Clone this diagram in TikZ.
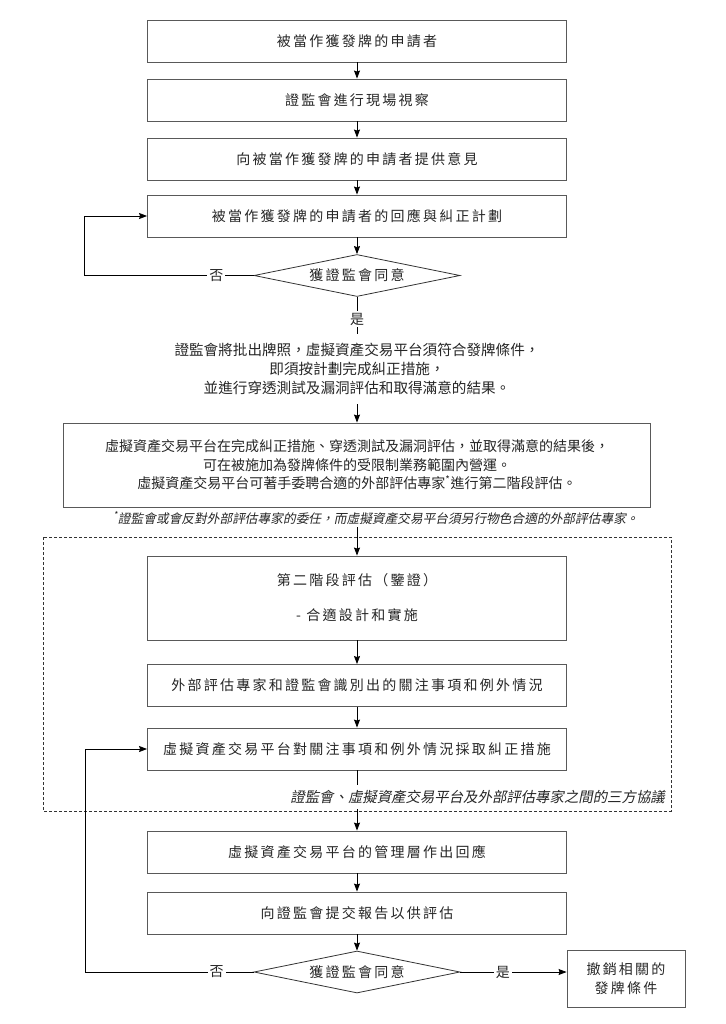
\documentclass[tikz,border=0pt]{standalone}
\usepackage{fontspec}
\setmainfont{Noto Sans CJK TC}
\newfontfamily\cjksp{Noto Sans CJK TC}[LetterSpace=16]
\newfontfamily\cjksl{Noto Sans CJK TC}[FakeSlant=0.2]
\usetikzlibrary{positioning,shapes.geometric,arrows.meta}

\begin{document}
\begin{tikzpicture}[x=1pt,y=-1pt,node distance=60pt,on grid,
    every node/.style={text=black!85},
    box/.style={draw=black!65,line width=0.9pt,minimum width=419pt,minimum height=42pt,
      align=center,font=\cjksp\fontsize{14}{19}\selectfont},
    wide/.style={box,minimum width=587pt,minimum height=84pt,font=\fontsize{14}{18.5}\selectfont},
    ask/.style={diamond,draw=black!80,line width=0.8pt,aspect=5,inner sep=0pt,
      minimum width=206pt,minimum height=42pt,font=\cjksp\fontsize{14}{17}\selectfont},
    lbl/.style={fill=white,inner sep=2pt,font=\fontsize{14}{17}\selectfont},
    arr/.style={-{Stealth[length=8pt,width=6pt,inset=1pt]},line width=0.8pt}]
      \fill[white] (0,0) rectangle (725,1024);
      \useasboundingbox (0,0) rectangle (725,1024);

      \node[box] (b1) at (357,41)         {被當作獲發牌的申請者};
      \node[box] (b2) [below=59pt of b1]  {證監會進行現場視察};
      \node[box] (b3) [below=59pt of b2]  {向被當作獲發牌的申請者提供意見};
      \node[box] (b4) [below=57pt of b3]  {被當作獲發牌的申請者的回應與糾正計劃};
      \node[ask] (d1) [below=59.5pt of b4] {獲證監會同意};
      \node[align=center,inner ysep=9pt,font=\fontsize{14.6}{19}\selectfont] (note) [below=93.5pt of d1]
        {證監會將批出牌照，虛擬資產交易平台須符合發牌條件，\\即須按計劃完成糾正措施，\\並進行穿透測試及漏洞評估和取得滿意的結果。};
      \node[wide] (b5) [below=96pt of note]
        {虛擬資產交易平台在完成糾正措施、穿透測試及漏洞評估，並取得滿意的結果後，\\
         可在被施加為發牌條件的受限制業務範圍內營運。\\
         虛擬資產交易平台可著手委聘合適的外部評估專家\textsuperscript{*}進行第二階段評估。};
      \node[inner ysep=3pt,font=\cjksl\fontsize{12.7}{15}\selectfont] (fn) [below=53pt of b5, xshift=19pt]
        {\textsuperscript{*}證監會或會反對外部評估專家的委任，而虛擬資產交易平台須另行物色合適的外部評估專家。};

      % three-party frame
      \draw[dash pattern=on 3pt off 2pt,black!80,line width=0.7pt] (43,537) rectangle (671,811);

      \node[box,minimum height=84pt] (b6) [below=133pt of b5]
        {第二階段評估（鑒證）\\[16pt]- 合適設計和實施};
      \node[box] (b7)  [below=87.5pt of b6] {外部評估專家和證監會識別出的關注事項和例外情況};
      \node[box] (b8)  [below=63.5pt of b7] {虛擬資產交易平台對關注事項和例外情況採取糾正措施};
      \node[box] (b9)  [below=103pt of b8]  {虛擬資產交易平台的管理層作出回應};
      \node[box] (b10) [below=61pt of b9]   {向證監會提交報告以供評估};
      \node[ask] (d2)  [below=59pt of b10]  {獲證監會同意};
      \node[box,minimum width=118pt,minimum height=57pt] (b11) [right=269pt of d2, yshift=-7pt]
        {撤銷相關的\\發牌條件};

      \path [arr]
      (b1)   edge (b2)
      (b2)   edge (b3)
      (b3)   edge (b4)
      (b4)   edge (d1)
      (note) edge (b5)
      (b6)   edge (b7)
      (b7)   edge (b8)
      (b8)   edge (b9)
      (b9)   edge (b10)
      (b10)  edge (d2);

      \draw[line width=0.8pt] (d1) -- node[lbl,pos=0.6] {是} (note);
      \draw[arr] (fn.south -| b6.north) -- (b6.north);

      % back loops
      \draw[arr] (d1.west) -- node[lbl,pos=0.22] {否} ++(-169,0) |- (b4.west);
      \draw[arr] (d2.west) -- node[lbl,pos=0.22] {否} ++(-168,0) |- (b8.west);
      \draw[arr] (d2.east) -- node[lbl,pos=0.4] {是} (d2 -| b11.west);

      \node[anchor=east,fill=white,inner xsep=2pt,inner ysep=5pt,font=\cjksl\fontsize{14.4}{17}\selectfont]
        (tri) at (667,797) {證監會、虛擬資產交易平台及外部評估專家之間的三方協議};
\end{tikzpicture}
\end{document}
